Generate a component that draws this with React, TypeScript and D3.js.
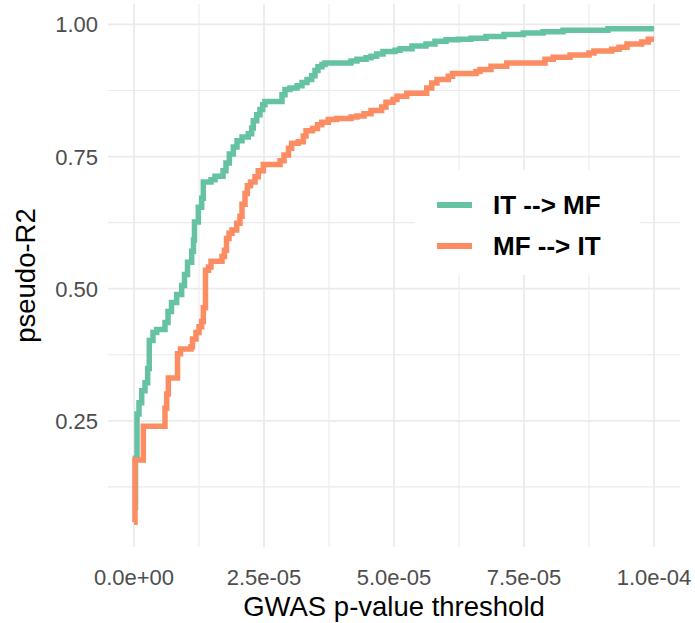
import React from "react";
import * as d3 from "d3";

// GWAS p-value thresholds in units of 1e-6
const itmfThreshold = [0, 0.29, 0.58, 0.96, 1.48, 2.12, 2.63, 2.94, 3.65, 4.37, 5.96, 6.54, 7.21, 8.21, 9.17, 9.71, 10.29, 11.1, 11.44, 11.63, 12.37, 13.02, 13.33, 14.81, 15.58, 17.12, 17.69, 18.33, 19.1, 19.81, 20.77, 21.98, 22.63, 22.94, 23.6, 24.23, 24.75, 25.19, 28.46, 29.04, 30.0, 31.35, 32.31, 33.27, 34.17, 34.81, 35.38, 36.15, 36.73, 41.73, 42.88, 44.62, 45.58, 46.67, 47.88, 50.19, 51.15, 53.46, 56.15, 57.88, 60.0, 62.31, 64.81, 67.69, 71.15, 74.87, 78.65, 82.5, 91.15, 100];
const itmfR2 = [0.086, 0.179, 0.263, 0.284, 0.307, 0.322, 0.349, 0.402, 0.417, 0.423, 0.436, 0.457, 0.474, 0.489, 0.506, 0.527, 0.55, 0.571, 0.592, 0.626, 0.654, 0.671, 0.702, 0.706, 0.713, 0.723, 0.738, 0.755, 0.768, 0.78, 0.787, 0.793, 0.804, 0.818, 0.829, 0.839, 0.848, 0.854, 0.867, 0.877, 0.88, 0.884, 0.89, 0.896, 0.903, 0.913, 0.92, 0.924, 0.927, 0.931, 0.934, 0.937, 0.94, 0.944, 0.949, 0.951, 0.954, 0.959, 0.963, 0.968, 0.971, 0.972, 0.974, 0.977, 0.981, 0.984, 0.986, 0.989, 0.992, 0.992];

const mfitThreshold = [0, 0.19, 1.79, 5.96, 6.29, 6.6, 8.37, 8.94, 10.96, 11.25, 11.92, 12.5, 13.02, 13.33, 13.75, 14.33, 14.81, 16.92, 17.4, 17.79, 18.27, 18.85, 19.75, 20.38, 20.77, 21.35, 21.79, 22.4, 23.27, 23.9, 24.87, 28.08, 28.85, 29.71, 30.33, 31.6, 32.56, 33.08, 34.33, 35.29, 36.1, 37.37, 38.98, 41.73, 42.88, 44.23, 45.58, 47.63, 48.46, 49.81, 50.58, 52.44, 56.29, 57.25, 58.27, 60.44, 61.25, 65.77, 66.54, 68.65, 71.67, 79.04, 80.63, 83.85, 87.5, 88.46, 91.87, 93.27, 94.81, 97.63, 98.9, 100];
const mfitR2 = [0.058, 0.176, 0.24, 0.274, 0.301, 0.331, 0.377, 0.386, 0.39, 0.405, 0.417, 0.428, 0.438, 0.464, 0.535, 0.541, 0.552, 0.561, 0.573, 0.595, 0.605, 0.611, 0.624, 0.637, 0.66, 0.68, 0.695, 0.702, 0.712, 0.723, 0.735, 0.742, 0.753, 0.766, 0.775, 0.778, 0.789, 0.799, 0.803, 0.81, 0.815, 0.82, 0.822, 0.825, 0.827, 0.831, 0.837, 0.844, 0.853, 0.858, 0.864, 0.87, 0.88, 0.889, 0.896, 0.902, 0.907, 0.911, 0.915, 0.921, 0.927, 0.934, 0.938, 0.942, 0.946, 0.95, 0.953, 0.957, 0.963, 0.967, 0.972, 0.972];

const seriesNames = ["IT --> MF", "MF --> IT"];
const seriesColors = ["#66C2A5", "#FC8D62"];

const xTicks = [0, 25, 50, 75, 100];
const xTickLabels = ["0.0e+00", "2.5e-05", "5.0e-05", "7.5e-05", "1.0e-04"];
const xMinor = [12.5, 37.5, 62.5, 87.5];
const yTicks = [0.25, 0.5, 0.75, 1.0];
const yTickLabels = ["0.25", "0.50", "0.75", "1.00"];
const yMinor = [0.125, 0.375, 0.625, 0.875];

const W = 695;
const H = 623;
const panel = { left: 108, right: 680, top: 4, bottom: 547 };
const font = "'Liberation Sans', Arial, Helvetica, sans-serif";

export default function App() {
  const allY = [...itmfR2, ...mfitR2];
  const yMin = d3.min(allY)!;
  const yMax = d3.max(allY)!;
  const yPad = (yMax - yMin) * 0.05;
  const x = d3.scaleLinear().domain([-5, 105]).range([panel.left, panel.right]);
  const y = d3.scaleLinear().domain([yMin - yPad, yMax + yPad]).range([panel.bottom, panel.top]);

  const line = d3
    .line<[number, number]>()
    .x((d) => x(d[0]))
    .y((d) => y(d[1]))
    .curve(d3.curveStepAfter);

  const series = [
    itmfThreshold.map((t, i) => [t, itmfR2[i]] as [number, number]),
    mfitThreshold.map((t, i) => [t, mfitR2[i]] as [number, number]),
  ];

  const grid = "#EBEBEB";

  return (
    <svg width={W} height={H} style={{ position: "absolute", left: 0, top: 0, background: "#fff" }}>
      <rect x={0} y={0} width={W} height={H} fill="#fff" />
      {/* minor grid */}
      {xMinor.map((v) => (
        <line key={"xm" + v} x1={x(v)} x2={x(v)} y1={panel.top} y2={panel.bottom} stroke={grid} strokeWidth={1.1} />
      ))}
      {yMinor.map((v) => (
        <line key={"ym" + v} x1={panel.left} x2={panel.right} y1={y(v)} y2={y(v)} stroke={grid} strokeWidth={1.1} />
      ))}
      {/* major grid */}
      {xTicks.map((v) => (
        <line key={"xM" + v} x1={x(v)} x2={x(v)} y1={panel.top} y2={panel.bottom} stroke={grid} strokeWidth={1.8} />
      ))}
      {yTicks.map((v) => (
        <line key={"yM" + v} x1={panel.left} x2={panel.right} y1={y(v)} y2={y(v)} stroke={grid} strokeWidth={1.8} />
      ))}
      {/* lines */}
      {series.map((s, i) => (
        <path key={"s" + i} d={line(s)!} fill="none" stroke={seriesColors[i]} strokeWidth={5.5} strokeLinejoin="miter" strokeLinecap="butt" />
      ))}
      {/* axis tick labels */}
      {xTicks.map((v, i) => (
        <text key={"xt" + v} x={x(v)} y={585} textAnchor="middle" fontFamily={font} fontSize={22} fill="#4D4D4D">
          {xTickLabels[i]}
        </text>
      ))}
      {yTicks.map((v, i) => (
        <text key={"yt" + v} x={98} y={y(v)} dy="0.36em" textAnchor="end" fontFamily={font} fontSize={22} fill="#4D4D4D">
          {yTickLabels[i]}
        </text>
      ))}
      {/* axis titles */}
      <text x={(panel.left + panel.right) / 2} y={616} textAnchor="middle" fontFamily={font} fontSize={27.5} fill="#000">
        GWAS p-value threshold
      </text>
      <text
        transform={`translate(35, ${(panel.top + panel.bottom) / 2}) rotate(-90)`}
        textAnchor="middle"
        fontFamily={font}
        fontSize={27.5}
        fill="#000"
      >
        pseudo-R2
      </text>
      {/* legend */}
      <rect x={415} y={170} width={225} height={105} fill="#fff" />
      {seriesNames.map((n, i) => (
        <g key={"lg" + i} transform={`translate(0, ${i * 41})`}>
          <line x1={437} x2={472} y1={205} y2={205} stroke={seriesColors[i]} strokeWidth={6} />
          <text x={493} y={214} fontFamily={font} fontSize={26} fontWeight="bold" fill="#000">
            {n}
          </text>
        </g>
      ))}
    </svg>
  );
}
